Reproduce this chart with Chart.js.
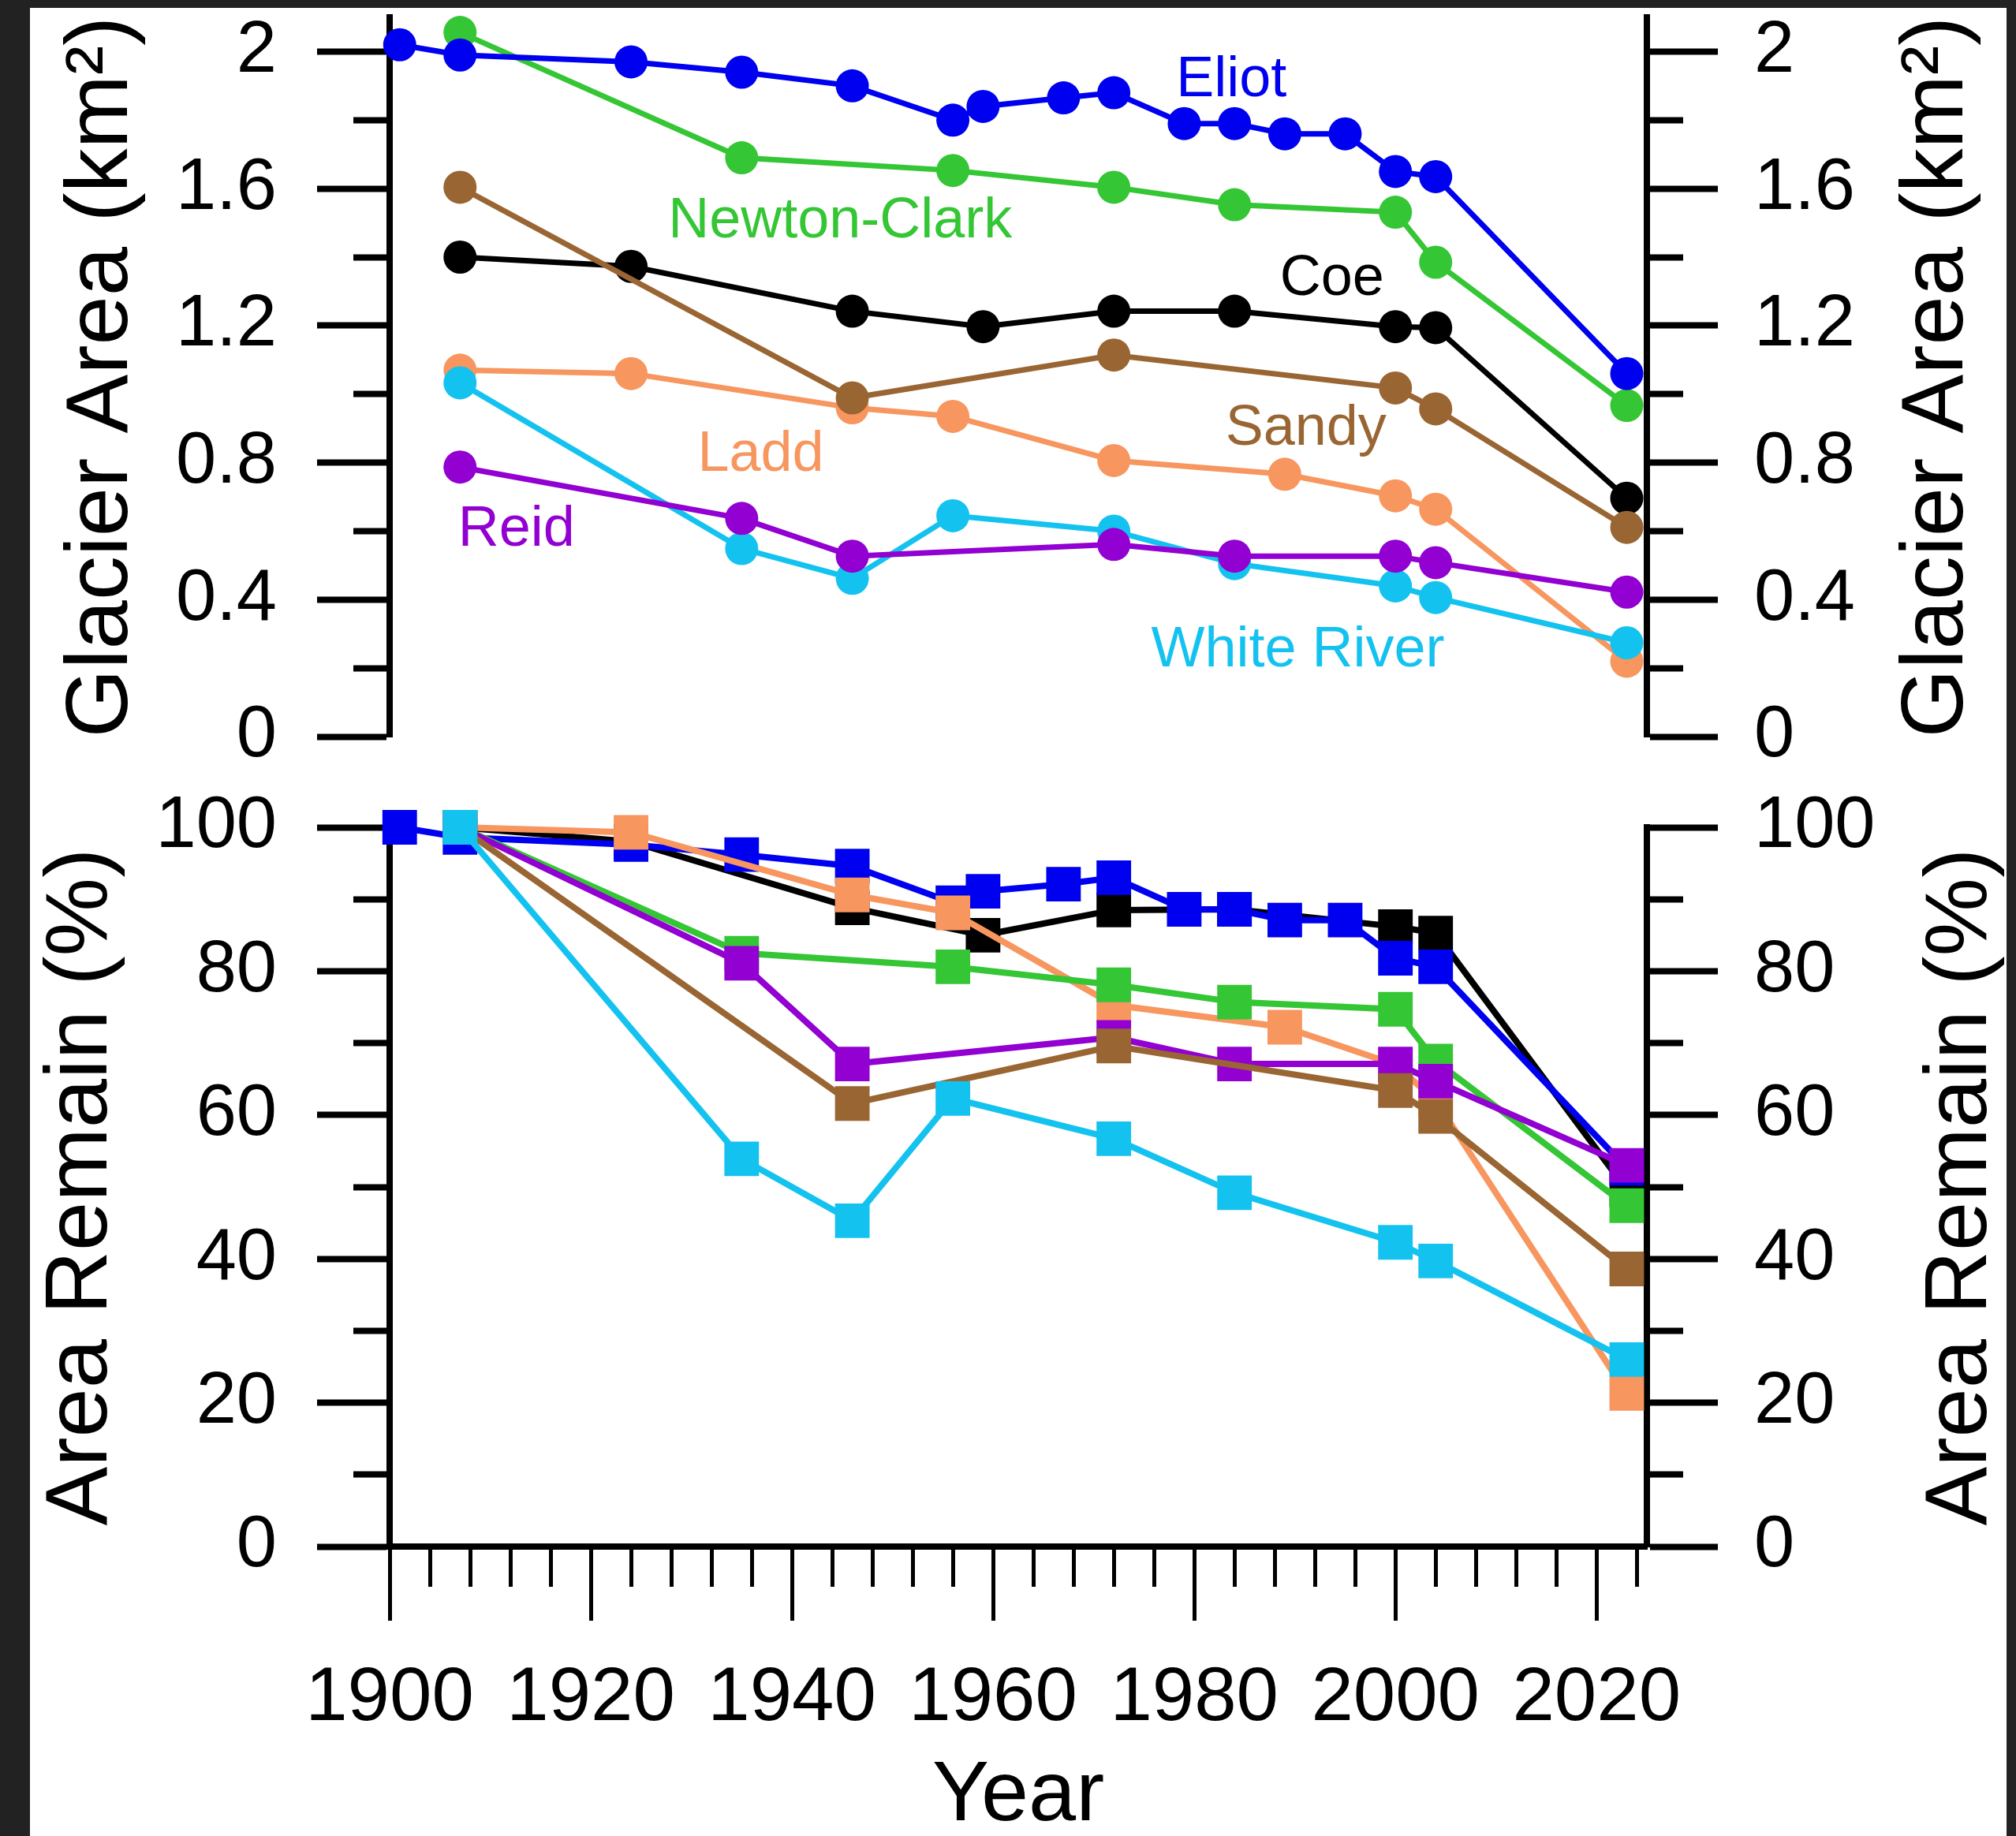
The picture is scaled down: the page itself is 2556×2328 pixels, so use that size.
<!DOCTYPE html>
<html><head><meta charset="utf-8">
<script src="https://cdn.jsdelivr.net/npm/chart.js@4/dist/chart.umd.min.js"></script>
<style>
html,body{margin:0;padding:0;background:#222;}
body{width:2556px;height:2328px;position:relative;overflow:hidden;}
#paper{position:absolute;left:38px;top:10px;width:2506px;height:2318px;background:#fff;}
canvas{position:absolute;left:0;}
#cTop{top:0;}
#cBot{top:1000px;}
</style></head><body>
<div id="paper"></div>
<canvas id="cTop" width="2556" height="1000"></canvas>
<canvas id="cBot" width="2556" height="1328"></canvas>
<script>
// ---------------- DATA ----------------
const eliotYears = [1901,1907,1924,1935,1946,1956,1959,1967,1972,1979,1984,1989,1995,2000,2004,2023];
const eliotArea  = [2.02,1.99,1.97,1.94,1.90,1.80,1.84,1.865,1.88,1.79,1.79,1.76,1.76,1.65,1.635,1.06];
const eliotPct   = [100,98.6,97.6,96.2,94.6,89.5,91.1,92.1,93.0,88.6,88.6,87.1,87.1,81.8,80.6,52.6];

const newtonYears = [1907,1935,1956,1972,1984,2000,2004,2023];
const newtonArea  = [2.056,1.69,1.653,1.604,1.553,1.531,1.385,0.967];
const newtonPct   = [100,82.5,80.6,78.1,75.7,74.7,67.5,47.4];

const coeYears = [1907,1924,1946,1959,1972,1984,2000,2004,2023];
const coeArea  = [1.40,1.373,1.242,1.197,1.242,1.242,1.197,1.194,0.696];
const coePct   = [100,98.0,88.8,85.0,88.5,88.6,86.2,85.3,49.6];

const sandyYears = [1907,1946,1972,2000,2004,2023];
const sandyArea  = [1.604,0.989,1.114,1.018,0.957,0.611];
const sandyPct   = [100,61.6,69.6,63.4,59.8,38.6];

const laddYears = [1907,1924,1946,1956,1972,1989,2000,2004,2023];
const laddArea  = [1.07,1.06,0.96,0.935,0.806,0.766,0.703,0.664,0.22];
const laddPct   = [100,99.3,90.6,88.1,75.3,72.2,67.0,62.0,21.3];

const whiteYears = [1907,1935,1946,1956,1972,1984,2000,2004,2023];
const whiteArea  = [1.033,0.549,0.462,0.645,0.60,0.505,0.44,0.406,0.274];
const whitePct   = [100,53.9,45.3,62.3,56.7,49.2,42.3,39.7,26.0];

const reidYears = [1907,1935,1946,1972,1984,2000,2004,2023];
const reidArea  = [0.787,0.637,0.527,0.561,0.527,0.527,0.508,0.422];
const reidPct   = [100,81.1,67.1,70.8,67.1,67.1,64.7,53.0];

// tick values and labels
const X_TICKS = [1900,1904,1908,1912,1916,1920,1924,1928,1932,1936,1940,1944,1948,1952,1956,1960,1964,1968,1972,1976,1980,1984,1988,1992,1996,2000,2004,2008,2012,2016,2020,2024];
const X_MAJOR = [1900,1920,1940,1960,1980,2000,2020];
const X_LABELS = ['1900','1920','1940','1960','1980','2000','2020'];

const TOP_TICKS = [0,0.2,0.4,0.6,0.8,1.0,1.2,1.4,1.6,1.8,2.0];
const TOP_MAJOR = [0,0.4,0.8,1.2,1.6,2.0];
const TOP_LABELS = ['0','0.4','0.8','1.2','1.6','2'];

const BOT_TICKS = [0,10,20,30,40,50,60,70,80,90,100];
const BOT_MAJOR = [0,20,40,60,80,100];
const BOT_LABELS = ['0','20','40','60','80','100'];

// ---------------- SERIES / STYLE ----------------
const SERIES = [
  {name:'Eliot',        years:eliotYears,  area:eliotArea,  pct:eliotPct},
  {name:'Newton-Clark', years:newtonYears, area:newtonArea, pct:newtonPct},
  {name:'Coe',          years:coeYears,    area:coeArea,    pct:coePct},
  {name:'Sandy',        years:sandyYears,  area:sandyArea,  pct:sandyPct},
  {name:'Ladd',         years:laddYears,   area:laddArea,   pct:laddPct},
  {name:'White River',  years:whiteYears,  area:whiteArea,  pct:whitePct},
  {name:'Reid',         years:reidYears,   area:reidArea,   pct:reidPct}
];
const COLORS = {
  'Eliot':'#0000F0', 'Newton-Clark':'#34C634', 'Coe':'#000000', 'Sandy':'#996633',
  'Ladd':'#F7965F', 'White River':'#14C2F0', 'Reid':'#9200D2'
};
// drawing order, back to front
const TOP_STACK = ['Ladd','White River','Reid','Newton-Clark','Eliot','Coe','Sandy'];
const BOT_STACK = ['Coe','Eliot','Ladd','Newton-Clark','Reid','Sandy','White River'];

// in-plot series labels (anchor in data coordinates of the upper panel)
const SERIES_LABELS = [
  {name:'Eliot',        year:1983.7, value:1.869},
  {name:'Newton-Clark', year:1944.8, value:1.457},
  {name:'Coe',          year:1993.7, value:1.290},
  {name:'Sandy',        year:1991.1, value:0.853},
  {name:'Ladd',         year:1936.9, value:0.777},
  {name:'Reid',         year:1912.6, value:0.557},
  {name:'White River',  year:1990.3, value:0.205}
];

const FONT = '"Liberation Sans", Arial, Helvetica, sans-serif';
Chart.defaults.font.family = FONT;
Chart.defaults.color = '#000';

function buildDatasets(key, stack, extra) {
  return SERIES.map(s => {
    const vals = s[key];
    const z = stack.indexOf(s.name);
    return Object.assign({
      label: s.name,
      data: s.years.map((yr, i) => ({x: yr, y: vals[i]})),
      borderColor: COLORS[s.name],
      backgroundColor: COLORS[s.name],
      pointBackgroundColor: COLORS[s.name],
      tension: 0,
      fill: false,
      clip: false,
      order: stack.length - z,
      xAxisID: 'x', yAxisID: 'y'
    }, extra);
  });
}

function yAxis(position, cfg) {
  const left = position === 'left';
  const tl = left ? cfg.tickLengthL : cfg.tickLengthR;
  const visible = tl - 4;
  return {
    type: 'linear', position, min: cfg.min, max: cfg.max, bounds: 'data',
    afterBuildTicks: s => { s.ticks = cfg.ticks.map(v => ({value: v, isMajor: cfg.majors.includes(v)})); },
    afterFit: s => {
      s.width = left ? cfg.leftWidth : cfg.rightWidth;
      s.paddingTop = 0; s.paddingBottom = 0; s.paddingLeft = 0; s.paddingRight = 0;
    },
    ticks: {
      autoSkip: false, padding: left ? cfg.padL : cfg.padR, color: '#000',
      font: {family: FONT, size: cfg.fontSize},
      callback: (v, i, t) => { const k = cfg.majors.indexOf(t[i].value); return k >= 0 ? cfg.labels[k] : ''; }
    },
    grid: {
      drawOnChartArea: false, drawTicks: true, tickLength: tl, tickWidth: 8, tickColor: '#000',
      tickBorderDash: c => (c.tick && !c.tick.isMajor) ? (left ? [cfg.minorLength, visible - cfg.minorLength] : [cfg.minorLength, 1000]) : [],
      tickBorderDashOffset: c => (c.tick && !c.tick.isMajor && left) ? cfg.minorLength : 0
    },
    border: {display: true, color: '#000', width: 8},
    title: left ? {display: true, text: cfg.title, color: '#000',
                   font: {family: FONT, size: cfg.titleSize}, padding: {top: cfg.titlePad, bottom: 0}}
                : {display: false}
  };
}

const rightTitlePlugin = {
  id: 'rightTitle',
  afterDraw(chart, args, opts) {
    if (!opts || !opts.text) return;
    const s = chart.scales.y2, ctx = chart.ctx;
    ctx.save();
    ctx.translate(s.left + opts.offset, (s.top + s.bottom) / 2);
    ctx.rotate(-Math.PI / 2);
    ctx.font = opts.size + 'px ' + FONT;
    ctx.fillStyle = '#000';
    ctx.textAlign = 'center';
    ctx.textBaseline = 'alphabetic';
    ctx.fillText(opts.text, 0, 0);
    ctx.restore();
  }
};

const seriesLabelPlugin = {
  id: 'seriesLabels',
  afterDatasetsDraw(chart, args, opts) {
    if (!opts || !opts.items) return;
    const ctx = chart.ctx, xs = chart.scales.x, ys = chart.scales.y;
    ctx.save();
    ctx.font = opts.size + 'px ' + FONT;
    ctx.textAlign = 'center';
    ctx.textBaseline = 'alphabetic';
    opts.items.forEach(l => {
      ctx.fillStyle = COLORS[l.name];
      ctx.fillText(l.name, xs.getPixelForValue(l.year), ys.getPixelForValue(l.value));
    });
    ctx.restore();
  }
};

const common = {
  responsive: false, animation: false, devicePixelRatio: 1, events: [],
};

// ---------------- TOP PANEL ----------------
const topCfg = {min: 0, max: 2.1, ticks: TOP_TICKS, majors: TOP_MAJOR, labels: TOP_LABELS,
  leftWidth: 494, rightWidth: 468, tickLengthL: 92, tickLengthR: 90, minorLength: 42,
  padL: 51, padR: 46, fontSize: 92, title: 'Glacier Area (km²)', titleSize: 112, titlePad: 63};

new Chart(document.getElementById('cTop'), {
  type: 'line',
  data: {datasets: buildDatasets('area', TOP_STACK, {borderWidth: 7, pointStyle: 'circle', pointRadius: 21, pointBorderWidth: 0})},
  options: Object.assign({}, common, {
    layout: {padding: {top: 22, bottom: 66, left: 0, right: 0}, autoPadding: false},
    plugins: {
      legend: {display: false}, tooltip: {enabled: false},
      rightTitle: {text: 'Glacier Area (km²)', offset: 400, size: 112},
      seriesLabels: {items: SERIES_LABELS, size: 72}
    },
    scales: {
      x: {type: 'linear', min: 1900, max: 2025, display: false},
      y: yAxis('left', topCfg),
      y2: yAxis('right', topCfg)
    }
  }),
  plugins: [rightTitlePlugin, seriesLabelPlugin]
});

// ---------------- BOTTOM PANEL ----------------
const botCfg = {min: 0, max: 100, ticks: BOT_TICKS, majors: BOT_MAJOR, labels: BOT_LABELS,
  leftWidth: 494, rightWidth: 468, tickLengthL: 92, tickLengthR: 90, minorLength: 42,
  padL: 51, padR: 46, fontSize: 92, title: 'Area Remain (%)', titleSize: 112, titlePad: 37};

new Chart(document.getElementById('cBot'), {
  type: 'line',
  data: {datasets: buildDatasets('pct', BOT_STACK, {borderWidth: 8, pointStyle: 'rect', pointRadius: 31, pointBorderWidth: 0})},
  options: Object.assign({}, common, {
    layout: {padding: {top: 49, bottom: 0, left: 0, right: 0}, autoPadding: false},
    plugins: {
      legend: {display: false}, tooltip: {enabled: false},
      rightTitle: {text: 'Area Remain (%)', offset: 430, size: 112}
    },
    scales: {
      x: {
        type: 'linear', position: 'bottom', min: 1900, max: 2025, bounds: 'data',
        afterBuildTicks: s => { s.ticks = X_TICKS.map(v => ({value: v, isMajor: X_MAJOR.includes(v)})); },
        afterFit: s => { s.height = 367; s.paddingLeft = 0; s.paddingRight = 0; s.paddingTop = 0; s.paddingBottom = 0; },
        ticks: {
          autoSkip: false, maxRotation: 0, minRotation: 0, padding: 42, color: '#000',
          font: {family: FONT, size: 96},
          callback: (v, i, t) => { const k = X_MAJOR.indexOf(t[i].value); return k >= 0 ? X_LABELS[k] : ''; }
        },
        grid: {
          drawOnChartArea: false, drawTicks: true, tickLength: 94, tickWidth: 5, tickColor: '#000',
          tickBorderDash: c => (c.tick && !c.tick.isMajor) ? [47, 1000] : [],
          tickBorderDashOffset: 0
        },
        border: {display: true, color: '#000', width: 8},
        title: {display: true, text: 'Year', color: '#000', font: {family: FONT, size: 108, lineHeight: 0.8}, padding: {top: 0, bottom: 7}}
      },
      y: yAxis('left', botCfg),
      y2: yAxis('right', botCfg)
    }
  }),
  plugins: [rightTitlePlugin]
});
</script>
</body></html>
